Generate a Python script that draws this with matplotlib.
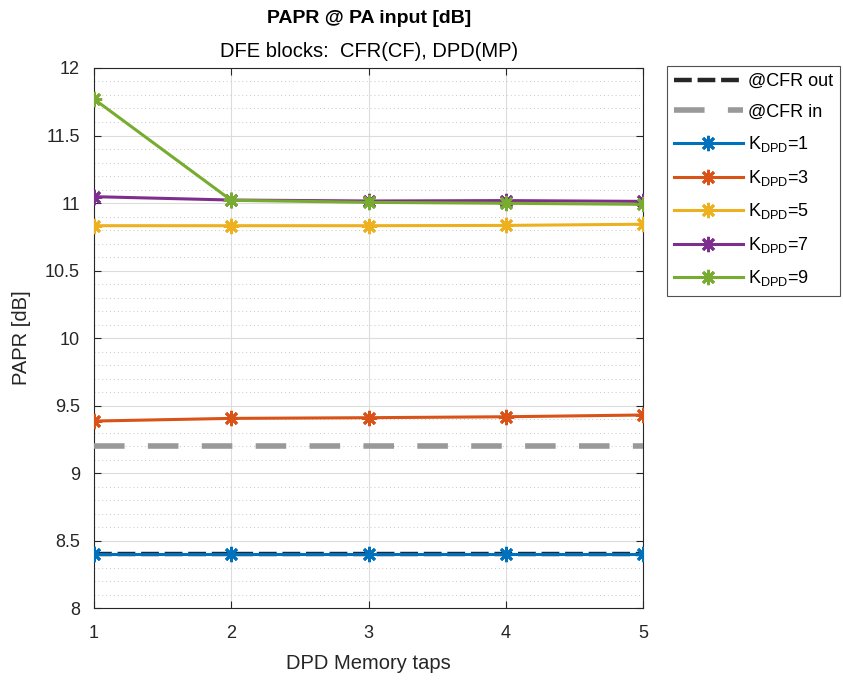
import numpy as np
import matplotlib
matplotlib.use('Agg')
import matplotlib.pyplot as plt
from matplotlib.ticker import MultipleLocator, FormatStrFormatter

plt.rcParams['font.family'] = ['Liberation Sans', 'DejaVu Sans']
plt.rcParams['mathtext.fontset'] = 'custom'
plt.rcParams['mathtext.rm'] = 'Liberation Sans'
plt.rcParams['mathtext.it'] = 'Liberation Sans'

# data
taps = [1, 2, 3, 4, 5]
cfr_out = [8.40, 8.40, 8.40, 8.40, 8.40]
cfr_in = [9.20, 9.20, 9.20, 9.20, 9.20]
k_values = [1, 3, 5, 7, 9]
papr_k1 = [8.40, 8.40, 8.40, 8.40, 8.40]
papr_k3 = [9.385, 9.405, 9.41, 9.417, 9.43]
papr_k5 = [10.832, 10.832, 10.832, 10.834, 10.843]
papr_k7 = [11.047, 11.022, 11.015, 11.018, 11.012]
papr_k9 = [11.77, 11.02, 11.005, 10.998, 10.99]
colors = ['#0072BD', '#D95319', '#EDB120', '#7E2F8E', '#77AC30']

fig = plt.figure(figsize=(8.43, 6.84), dpi=100)
ax = fig.add_axes([0.1115, 0.111, 0.6515, 0.7896])

ax.plot(taps, cfr_out, color='#262626', lw=3.2, ls=(0, (4, 1.3)), label='@CFR out', zorder=3)
ax.plot(taps, cfr_in, color='#999999', lw=4.0, ls=(0, (5.5, 4.2)), label='@CFR in', zorder=3)

for k, vals, c in zip(k_values, [papr_k1, papr_k3, papr_k5, papr_k7, papr_k9], colors):
    ax.plot(taps, vals, color=c, lw=2.2, marker=(8, 2, 0), ms=11, mew=2.0,
            label=r'K$_{\rm DPD}$=%d' % k, zorder=4)

ax.set_xlim(1, 5)
ax.set_ylim(8, 12)
ax.set_xticks(taps)
ax.yaxis.set_major_locator(MultipleLocator(0.5))
ax.yaxis.set_minor_locator(MultipleLocator(0.1))
ax.yaxis.set_major_formatter(FormatStrFormatter('%g'))
ax.grid(True, which='major', color='#dcdcdc', lw=0.8)
ax.grid(True, which='minor', axis='y', color='#c8c8c8', lw=0.7, ls=(0, (1, 3)))
ax.set_axisbelow(True)
ax.tick_params(which='both', direction='in', top=True, right=True, labelsize=13,
               colors='#262626', length=5)
ax.tick_params(axis='y', pad=10)
ax.tick_params(axis='x', pad=12)
ax.tick_params(which='minor', length=0)
for s in ax.spines.values():
    s.set_color('#262626')
    s.set_linewidth(0.8)

ax.set_xlabel('DPD Memory taps', fontsize=14.5, color='#262626', labelpad=9)
ax.set_ylabel('PAPR [dB]', fontsize=14.5, color='#262626', labelpad=10)
fig.text(0.4375, 0.973, 'PAPR @ PA input [dB]', ha='center', va='center',
         fontsize=14, fontweight='bold', color='black')
fig.text(0.4375, 0.925, 'DFE blocks:  CFR(CF), DPD(MP)', ha='center', va='center',
         fontsize=14.5, color='black')

leg = fig.legend(loc='upper left', bbox_to_anchor=(0.791, 0.9035), fontsize=13,
                 frameon=True, fancybox=False, edgecolor='#262626', handlelength=3.8,
                 borderaxespad=0, labelspacing=0.75, handletextpad=0.3, borderpad=0.4)
leg.get_frame().set_linewidth(0.8)

fig.savefig('out.png', dpi=100)
